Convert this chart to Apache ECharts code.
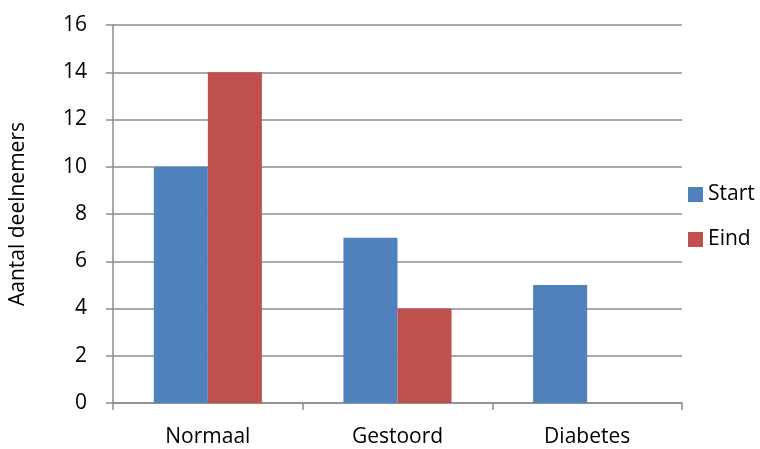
<!DOCTYPE html>
<html><head><meta charset="utf-8">
<script src="https://cdn.jsdelivr.net/npm/echarts@6/dist/echarts.min.js"></script>
<style>html,body{margin:0;padding:0;background:#fff}#c{width:760px;height:449px}</style>
</head><body><div id="c"></div>
<script>
const categories = ['Normaal', 'Gestoord', 'Diabetes'];
const startValues = [10, 7, 5];
const eindValues = [14, 4, 0];
const seriesNames = ['Start', 'Eind'];
const yTicks = { min: 0, max: 16, interval: 2 };

const chart = echarts.init(document.getElementById('c'));
const font = '"Open Sans", "Liberation Sans", sans-serif';
chart.setOption({
  animation: false,
  grid: { left: 110, right: 78, top: 25, bottom: 46 },
  legend: {
    orient: 'vertical', left: 683, top: 179, itemWidth: 15, itemHeight: 15, itemGap: 24,
    icon: 'rect',
    textStyle: { fontFamily: font, fontSize: 21, color: '#000', padding: [0,0,0,0] },
    data: seriesNames
  },
  xAxis: {
    type: 'category', data: categories,
    axisLine: { lineStyle: { color: '#8c8c8c', width: 1.5 } },
    axisTick: { show: true, length: 7, alignWithLabel: false, lineStyle: { color: '#8c8c8c', width: 1.5 } },
    axisLabel: { fontFamily: font, fontSize: 21, color: '#000', margin: 24 }
  },
  yAxis: {
    type: 'value', min: yTicks.min, max: yTicks.max, interval: yTicks.interval,
    name: 'Aantal deelnemers', nameLocation: 'middle', nameGap: 84, nameRotate: 90,
    nameTextStyle: { fontFamily: font, fontSize: 21, color: '#000' },
    axisLine: { show: true, lineStyle: { color: '#8c8c8c', width: 1.5 } },
    axisTick: { show: true, length: 7, lineStyle: { color: '#8c8c8c', width: 1.5 } },
    axisLabel: { fontFamily: font, fontSize: 21, color: '#000', margin: 26 },
    splitLine: { lineStyle: { color: '#8c8c8c', width: 1.5 } }
  },
  series: [
    { name: seriesNames[0], type: 'bar', data: startValues, barGap: '0%', barCategoryGap: '43%', itemStyle: { color: '#4f81bd' } },
    { name: seriesNames[1], type: 'bar', data: eindValues, itemStyle: { color: '#c0504d' } }
  ]
});
</script></body></html>
